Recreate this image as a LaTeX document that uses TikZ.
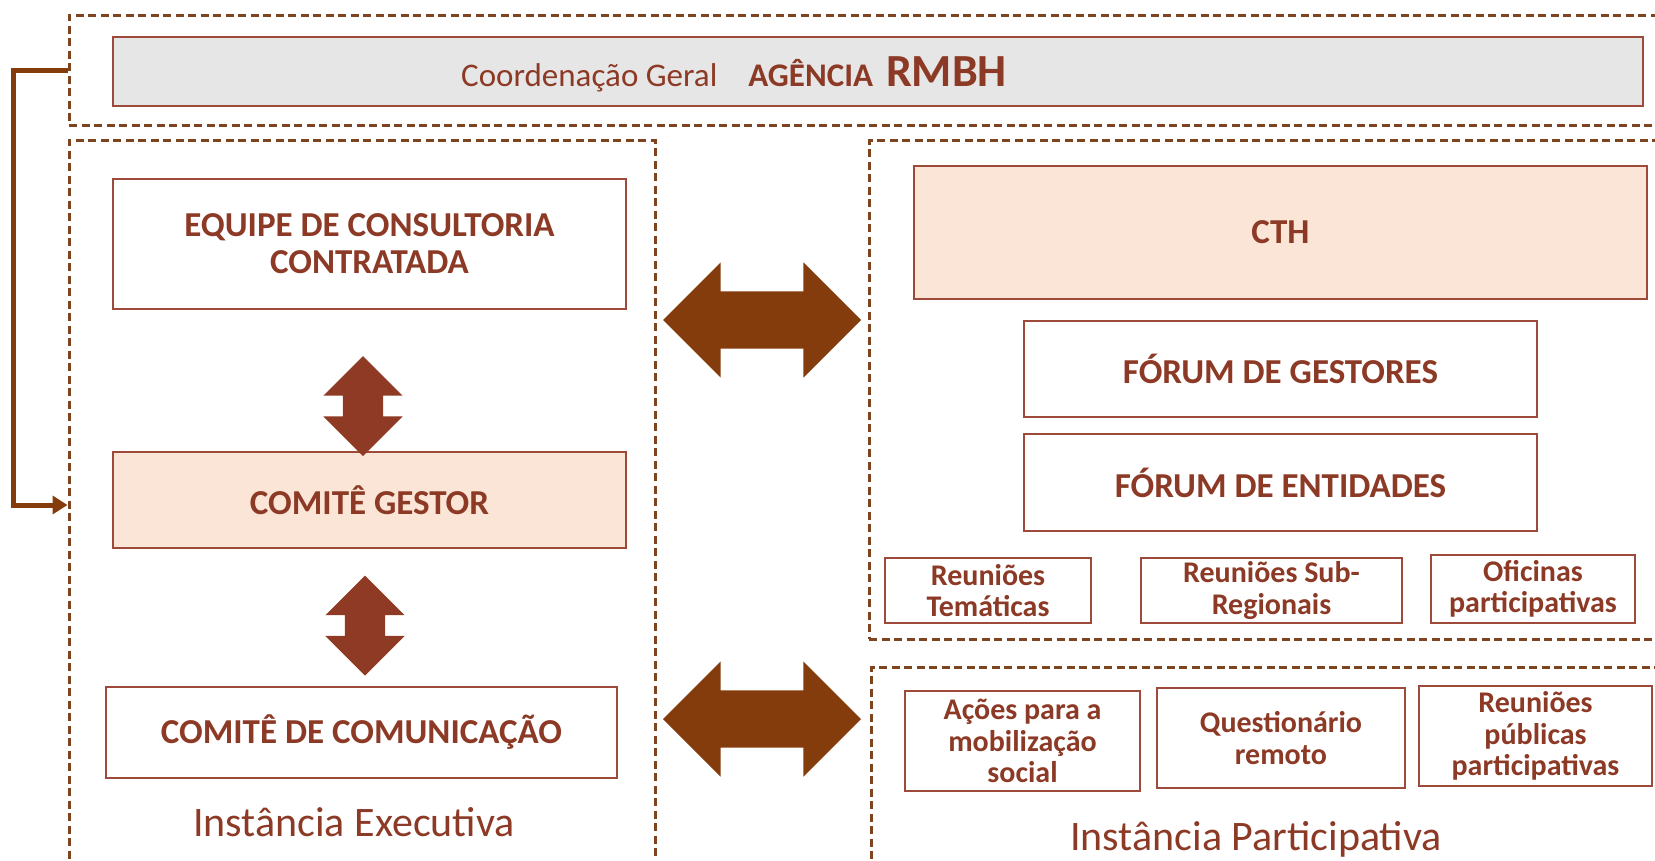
\documentclass[tikz,border=0pt]{standalone}
\usepackage{fontspec}
\setmainfont{Carlito}
\usetikzlibrary{shapes.arrows, arrows.meta}
\definecolor{txt}{HTML}{8C3A26}
\definecolor{brd}{HTML}{9E4A3A}
\definecolor{dsh}{HTML}{7E4420}
\definecolor{peach}{HTML}{FBE5D6}
\definecolor{grayfill}{HTML}{E7E6E6}
\definecolor{harr}{HTML}{843C0C}
\definecolor{varr}{HTML}{8E3A24}
\tikzset{
  grp/.style = {draw=dsh, line width=3pt, dash pattern=on 8pt off 4.5pt, inner sep=0pt},
  box/.style = {draw=brd, line width=2pt, fill=white, text=txt, align=center, inner sep=0pt,
                font=\bfseries\fontsize{35}{37}\selectfont},
  smallbox/.style = {box, font=\bfseries\fontsize{30}{31.5}\selectfont},
  instlabel/.style = {text=txt, inner sep=0pt, font=\fontsize{42}{46}\selectfont},
  harrow/.style = {double arrow, fill=harr, draw=none, inner xsep=0pt, inner ysep=28.5pt,
                   minimum height=198pt, double arrow head extend=29pt},
  varrow/.style = {double arrow, fill=varr, draw=none, inner xsep=0pt, inner ysep=20pt, rotate=90,
                   minimum height=100pt, double arrow head extend=19.5pt}
}
\begin{document}
\begin{tikzpicture}[x=1pt, y=-1pt]
\useasboundingbox (0,0) rectangle (1655,860);
\clip (0,0) rectangle (1655,860);

\node[grp, minimum width=1596pt, minimum height=110pt] (topgrp) at (867,70) {};
\node[grp, minimum width=586pt, minimum height=730pt] (execgrp) at (362,505) {};
\node[grp, minimum width=796pt, minimum height=499pt] (partgrp) at (1267,389.5) {};
\node[grp, minimum width=794pt, minimum height=203pt] (mobgrp) at (1268,768.5) {};

\node[box, fill=grayfill, minimum width=1530pt, minimum height=69pt] (coord) at (878,71.5) {};
\node[anchor=west, text=txt, inner sep=0pt] (agencia) at (461,74)
  {\fontsize{33}{38}\selectfont Coordenação Geral\hspace{31pt}\textbf{AGÊNCIA}\hspace{13pt}\textbf{\fontsize{46}{50}\selectfont RMBH}};

\draw[harr, line width=5pt, -{Triangle[length=15pt, width=18pt]}] (topgrp.west) -- ++(-54,0) |- (execgrp.west);

\node[box, minimum width=513pt, minimum height=130pt] (equipe) at (369.5,244) {EQUIPE DE CONSULTORIA\\CONTRATADA};
\node[box, fill=peach, minimum width=513pt, minimum height=96pt] (gestor) at (369.5,500) {COMITÊ GESTOR};
\node[box, minimum width=511pt, minimum height=91pt] (comunic) at (361.5,732.5) {COMITÊ DE COMUNICAÇÃO};
\node[varrow] (v1) at (363,406) {};
\node[varrow] (v2) at (365,625.5) {};
\node[instlabel] (exec) at (354,822) {Instância Executiva};

\node[harrow] (h1) at (762,320) {};
\node[harrow] (h2) at (762,719) {};

\node[box, fill=peach, minimum width=733pt, minimum height=133pt] (cth) at (1280.5,232.5) {CTH};
\node[box, minimum width=513pt, minimum height=96pt] (gestores) at (1280.5,369) {FÓRUM DE GESTORES};
\node[box, minimum width=513pt, minimum height=97pt] (entidades) at (1280.5,482.5) {FÓRUM DE ENTIDADES};
\node[smallbox, minimum width=206pt, minimum height=65pt] (tematicas) at (988,590.5) {Reuniões\\Temáticas};
\node[smallbox, minimum width=261pt, minimum height=65pt] (subreg) at (1271.5,590.5) {Reuniões Sub-\\Regionais};
\node[smallbox, minimum width=204pt, minimum height=68pt] (oficinas) at (1533,589) {Oficinas\\participativas};

\node[smallbox, minimum width=235pt, minimum height=100pt] (acoes) at (1022.5,741) {Ações para a\\mobilização\\social};
\node[smallbox, minimum width=248pt, minimum height=100pt] (quest) at (1281,738) {Questionário\\remoto};
\node[smallbox, minimum width=233pt, minimum height=100pt] (publicas) at (1535.5,736) {Reuniões\\públicas\\participativas};
\node[instlabel] (part) at (1256,839) {Instância Participativa};
\end{tikzpicture}
\end{document}
